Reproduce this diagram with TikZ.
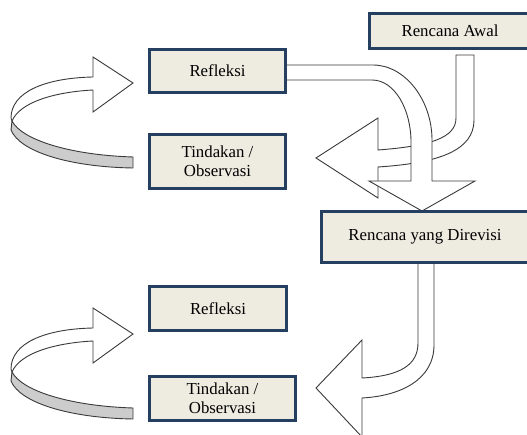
\documentclass[tikz,border=0pt]{standalone}
\usepackage{fontspec}
\setmainfont{Liberation Serif}
\newfontfamily\boxfont{Liberation Serif}
\definecolor{boxline}{HTML}{243F60}
\definecolor{boxfill}{HTML}{EEECE1}
\definecolor{arrline}{HTML}{3A3A3A}
\definecolor{ribbon}{HTML}{CCCCCC}
\begin{document}
\begin{tikzpicture}[x=1pt,y=-1pt,
  box/.style={draw=boxline,line width=3pt,fill=boxfill,inner sep=0pt,align=center,
    font=\boxfont\fontsize{16.8}{19}\selectfont},
  blockarrow/.style={draw=arrline,line width=0.9pt,fill=white,line join=miter},
  looparrow/.pic={
    \draw[blockarrow,fill=ribbon] (12,121) .. controls (22,140) and (70,155) .. (133,157)
      -- (133,168) .. controls (70,167) and (20,152) .. (11,130) -- cycle;
    \draw[blockarrow] (93,77) .. controls (45,78) and (11,92) .. (11,118)
      -- (12,121) .. controls (20,102) and (55,92) .. (93,90)
      -- (93,112) -- (133,83) -- (93,57) -- cycle;
  }]
\useasboundingbox (0,0) rectangle (527,435);
\clip (0,0) rectangle (527,435);

% left loop arrows
\pic (loopA) at (0,0) {looparrow};
\pic (loopB) at (0,251) {looparrow};

% arrow from Rencana Awal bending left
\draw[blockarrow] (456,55) -- (456,118) .. controls (456,138) and (430,146) .. (378,150)
  -- (378,118) -- (316,158) -- (378,198) -- (378,167)
  .. controls (440,163) and (474,150) .. (474,120) -- (474,55) -- cycle;

% arrow from Refleksi down to Rencana yang Direvisi
\draw[blockarrow] (285,65) -- (373,65) .. controls (405,65) and (432,100) .. (432,140)
  -- (432,181) -- (475,181) -- (422,211) -- (369,181) -- (411,181) -- (411,142)
  .. controls (411,110) and (395,80) .. (372,80) -- (285,80) -- cycle;

% arrow from Rencana yang Direvisi bending left
\draw[blockarrow] (418,262) -- (418,343) .. controls (418,365) and (400,376) .. (362,378)
  -- (362,340) -- (316,388) -- (362,437) -- (362,398)
  .. controls (400,396) and (434,380) .. (434,345) -- (434,262) -- cycle;

% boxes
\node[box,minimum width=136pt,minimum height=43pt] (refl1) at (217.5,71) {Refleksi};
\node[box,minimum width=136pt,minimum height=54pt] (tind1) at (217.5,161.5) {Tindakan /\\Observasi};
\node[box,minimum width=137pt,minimum height=44pt] (refl2) at (218,308.5) {Refleksi};
\node[box,minimum width=146pt,minimum height=44pt] (tind2) at (222.5,398.5) {Tindakan /\\Observasi};
\node[box,minimum width=161pt,minimum height=35pt] (awal) at (450,31) {Rencana Awal};
\node[box,minimum width=207pt,minimum height=51pt] (revisi) at (425,237) {Rencana yang Direvisi};
\end{tikzpicture}
\end{document}
